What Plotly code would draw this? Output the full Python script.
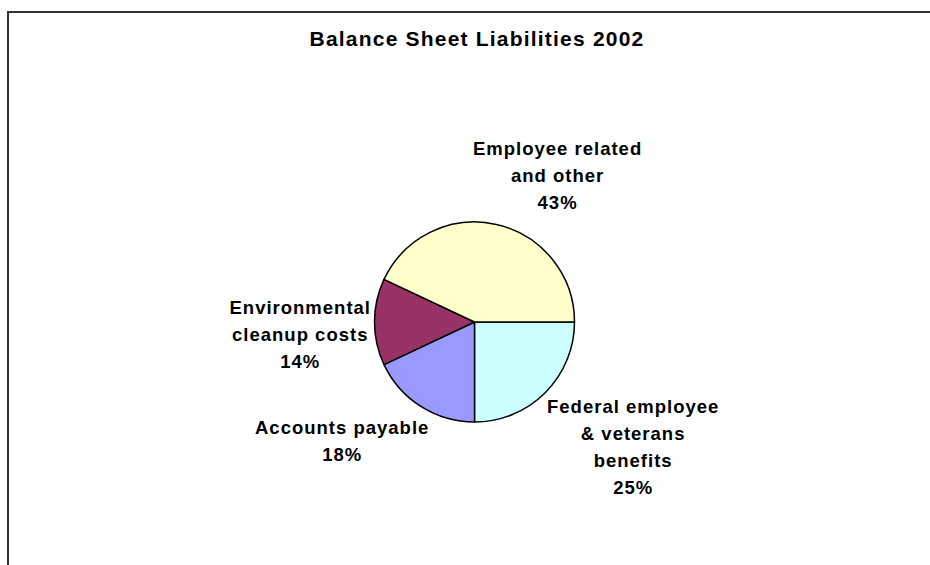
import plotly.graph_objects as go

# Liability categories (clockwise from 3 o'clock) and their shares, in percent
categories = [
    "Federal employee & veterans benefits",
    "Accounts payable",
    "Environmental cleanup costs",
    "Employee related and other",
]
label_lines = [
    ["Federal employee", "& veterans", "benefits"],
    ["Accounts payable"],
    ["Environmental", "cleanup costs"],
    ["Employee related", "and other"],
]
shares = [25, 18, 14, 43]

slice_colors = ["#CCFFFF", "#9999FF", "#993366", "#FFFFCC"]

W, H = 930, 565
# label block anchors in pixels: (centre x, top y)
label_anchor_px = [(633, 394), (342, 415), (300, 295), (557, 136)]

FONT = "Arial, 'Liberation Sans', sans-serif"
LABEL_SIZE = 18.5

fig = go.Figure(
    go.Pie(
        labels=categories,
        values=shares,
        sort=False,
        direction="clockwise",
        rotation=90,
        marker=dict(colors=slice_colors, line=dict(color="black", width=1.5)),
        textinfo="none",
        hoverinfo="skip",
        showlegend=False,
        domain=dict(x=[374.5 / W, 574.5 / W], y=[143 / H, 343 / H]),
    )
)

annotations = []
for lines, val, (px, py) in zip(label_lines, shares, label_anchor_px):
    annotations.append(
        dict(
            text="<br>".join(lines + [f"{val}%"]),
            x=px / W,
            y=1 - py / H,
            xref="paper",
            yref="paper",
            xanchor="center",
            yanchor="top",
            align="center",
            showarrow=False,
            font=dict(family=FONT, size=LABEL_SIZE, color="black", weight="bold"),
        )
    )

fig.update_layout(
    width=W,
    height=H,
    margin=dict(l=0, r=0, t=0, b=0),
    paper_bgcolor="white",
    plot_bgcolor="white",
    title=dict(
        text="Balance Sheet Liabilities 2002",
        x=477 / W,
        xanchor="center",
        xref="paper",
        y=1 - 31 / H,
        yref="container",
        yanchor="top",
        font=dict(family=FONT, size=21, color="black", weight="bold"),
    ),
    annotations=annotations,
    shapes=[
        dict(
            type="rect",
            xref="paper",
            yref="paper",
            x0=8 / W,
            x1=1.05,
            y0=-0.05,
            y1=1 - 12 / H,
            line=dict(color="#333333", width=2),
            fillcolor="rgba(0,0,0,0)",
            layer="below",
        )
    ],
)

# Wider tracking and line pitch for the bold chart text
post_js = """
var gd = document.getElementById('{plot_id}');
gd.querySelectorAll('.annotation-text').forEach(function (t) {
  t.style.letterSpacing = '1px';
  t.querySelectorAll('tspan.line').forEach(function (l, i) {
    l.setAttribute('dy', (i * 1.46) + 'em');
  });
});
var tt = gd.querySelector('.gtitle');
if (tt) { tt.style.letterSpacing = '1.2px'; }
"""

fig.write_html("out.html", post_script=post_js, config={"displayModeBar": False})
